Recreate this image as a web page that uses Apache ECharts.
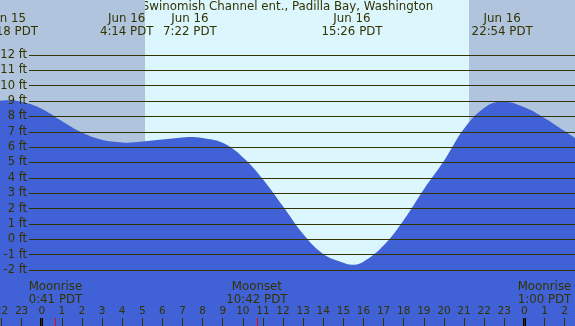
<!DOCTYPE html>
<html>
<head>
<meta charset="utf-8">
<script src="https://cdn.jsdelivr.net/npm/echarts@6/dist/echarts.min.js"></script>
<style>
	html, body { margin: 0; padding: 0; }
	#tide { width: 575px; height: 326px; }
</style>
</head>
<body>
<div id="tide"></div>
<script>
// hours after Jun 16 00:00 PDT, tide height in ft
var hours = [-2.07, -1.7, -1, 0, 1, 2, 3, 4, 4.23, 5, 6, 7, 7.37, 8, 9, 10, 11, 12, 13, 14, 15, 15.43, 16, 17, 18, 19, 20, 21, 22, 22.9, 24, 25, 26, 26.52];
var heights = [9.02, 9.05, 8.95, 8.5, 7.7, 6.95, 6.48, 6.3, 6.29, 6.37, 6.5, 6.63, 6.66, 6.6, 6.28, 5.35, 3.92, 2.15, 0.35, -0.95, -1.52, -1.65, -1.45, -0.4, 1.25, 3.25, 5.1, 7.2, 8.55, 8.97, 8.6, 7.9, 7.05, 6.6];

// high / low tide labels
var tideTimes = [-1.7, 4.23, 7.37, 15.43, 22.9];
var tideLabels = ['Jun 15\n22:18 PDT', 'Jun 16\n4:14 PDT', 'Jun 16\n7:22 PDT', 'Jun 16\n15:26 PDT', 'Jun 16\n22:54 PDT'];

// night (sunset -> sunrise)
var nights = [[-2.07, 5.14], [21.25, 26.52]];

// moon events
var moonTimes = [0.683, 10.7, 25];
var moonLabels = ['Moonrise\n0:41 PDT', 'Moonset\n10:42 PDT', 'Moonrise\n1:00 PDT'];
var midnights = [0, 24];

var txt = '#333300';
var font = 'DejaVu Sans';

var myChart = echarts.init(document.getElementById('tide'));

var tideData = hours.map(function (h, i) { return [h, heights[i]]; });

var tickMarks = [];
midnights.forEach(function (m) {
	tickMarks.push({ xAxis: m, lineStyle: { color: '#000000', width: 3, type: 'solid' } });
});
moonTimes.forEach(function (m) {
	tickMarks.push({ xAxis: m, lineStyle: { color: '#ff0000', width: 1, type: 'solid' } });
});

option = {
	backgroundColor: '#DCF6FE',
	animation: false,
	grid: [
		{ left: 0, right: 0, top: 0, bottom: 0, outerBoundsMode: 'none' }, // tide area
		{ left: 29, right: 0, top: 55, bottom: 56, outerBoundsMode: 'none' }, // ft lines
		{ left: 1.5, width: 563.1, top: 318, bottom: 0, outerBoundsMode: 'none' } // hour axis
	],
	xAxis: [
		{ type: 'value', gridIndex: 0, min: -2.07, max: 26.52, show: false },
		{ type: 'value', gridIndex: 1, min: 0, max: 1, show: false },
		{
			type: 'value', gridIndex: 2, min: -2, max: 26, interval: 1, z: 5,
			axisLine: { show: false },
			splitLine: { show: false },
			axisTick: { show: true, inside: true, length: 8, lineStyle: { color: txt, width: 1 } },
			axisLabel: {
				inside: true, margin: 9, color: txt, fontFamily: font, fontSize: 10.5,
				alignMinLabel: 'center', alignMaxLabel: 'center', hideOverlap: false,
				formatter: function (v) { return ((v % 24) + 24) % 24; }
			}
		}
	],
	yAxis: [
		{ type: 'value', gridIndex: 0, min: -5.64, max: 15.58, show: false },
		{
			type: 'value', gridIndex: 1, min: -2, max: 12, interval: 1, z: 5,
			axisLine: { show: false },
			axisTick: { show: false },
			splitLine: { show: true, lineStyle: { color: txt, width: 1 } },
			axisLabel: { margin: 2, color: txt, fontFamily: font, fontSize: 11.5, formatter: '{value} ft' }
		},
		{ type: 'value', gridIndex: 2, min: 0, max: 1, show: false }
	],
	series: [{
			type: 'line',
			xAxisIndex: 0,
			yAxisIndex: 0,
			z: 1,
			data: tideData,
			showSymbol: false,
			lineStyle: { width: 0 },
			silent: true,
			markArea: {
				silent: true,
				itemStyle: { color: '#B0C4DE', opacity: 1 },
				data: nights.map(function (n) { return [{ xAxis: n[0] }, { xAxis: n[1] }]; })
			}
		},
		{
			type: 'line',
			xAxisIndex: 0,
			yAxisIndex: 0,
			z: 2,
			data: tideData,
			smooth: 0.4,
			showSymbol: false,
			lineStyle: { width: 0 },
			areaStyle: { color: '#4161D6', opacity: 1, origin: 'start' },
			silent: true
		},
		{
			type: 'line',
			xAxisIndex: 2,
			yAxisIndex: 2,
			z: 6,
			data: [],
			markLine: {
				silent: true,
				symbol: 'none',
				label: { show: false },
				data: tickMarks
			}
		}
	] //潮汐曲线
};
myChart.setOption(option);

// top and bottom labels, placed through the x scale
var els = [{
	type: 'text', left: 'center', top: 1,
	style: { text: 'Swinomish Channel ent., Padilla Bay, Washington', fill: txt, font: '11.8px ' + font }
}];
tideTimes.forEach(function (t, i) {
	var x = myChart.convertToPixel({ xAxisIndex: 0 }, t);
	els.push({
		type: 'text', x: x, y: 13, z: 10,
		style: { text: tideLabels[i], fill: txt, font: '11.8px ' + font, align: 'center', lineHeight: 12.5 }
	});
});
moonTimes.forEach(function (t, i) {
	var x = myChart.convertToPixel({ xAxisIndex: 2 }, t);
	els.push({
		type: 'text', x: x, y: 281, z: 10,
		style: { text: moonLabels[i], fill: txt, font: '11.8px ' + font, align: 'center', lineHeight: 12.5 }
	});
});
myChart.setOption({ graphic: els });
</script>
</body>
</html>
